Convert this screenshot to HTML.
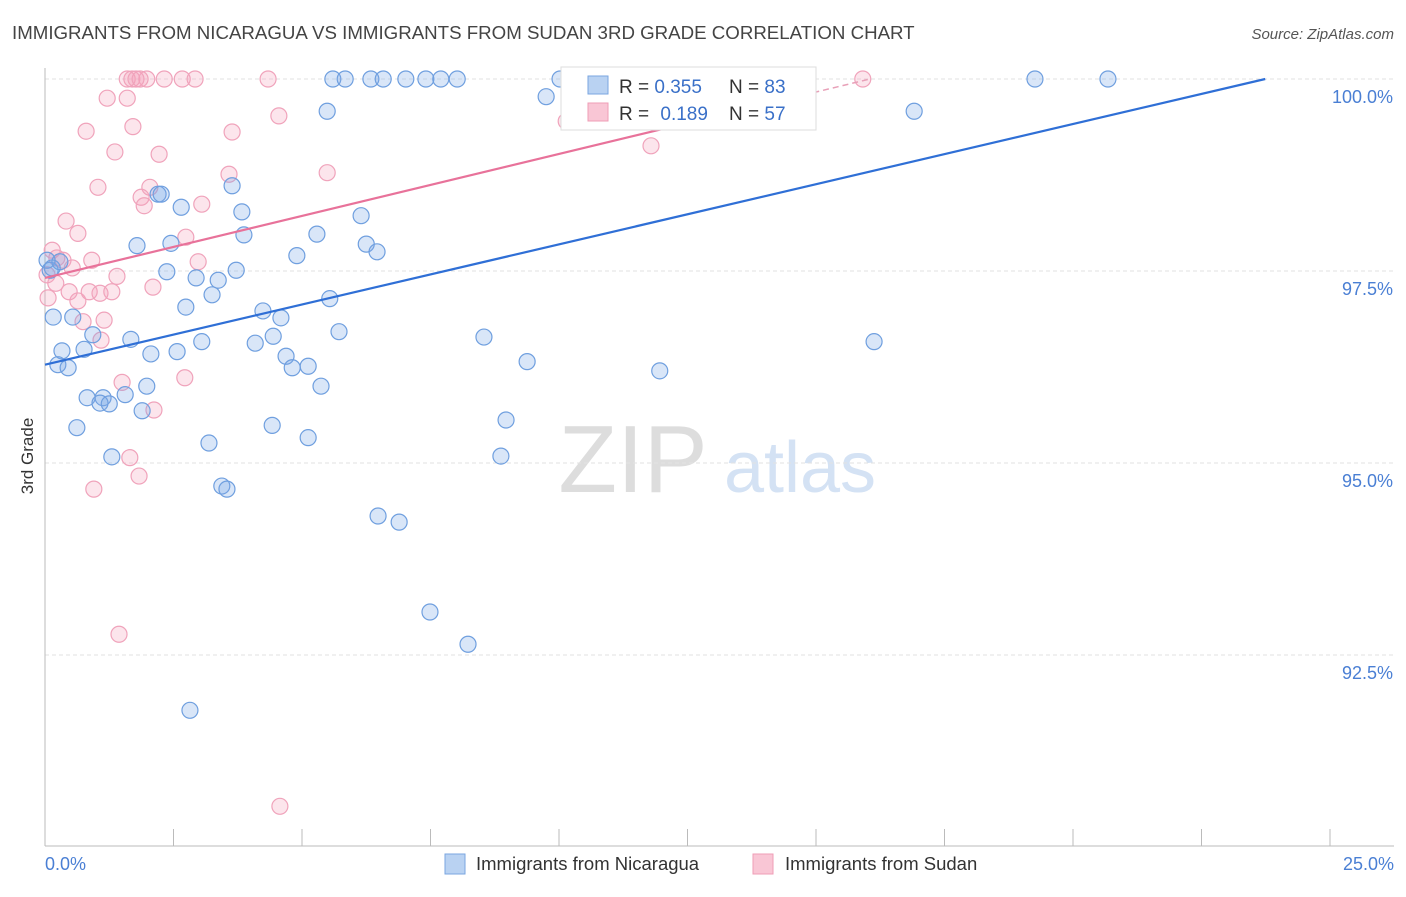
<!DOCTYPE html>
<html><head><meta charset="utf-8"><style>
body{margin:0;background:#fff;font-family:"Liberation Sans",sans-serif;}
svg text{font-family:"Liberation Sans",sans-serif;}
</style></head><body>
<svg id="chart" width="1406" height="892" xmlns="http://www.w3.org/2000/svg">
<text x="12" y="39" font-size="18.7" fill="#444">IMMIGRANTS FROM NICARAGUA VS IMMIGRANTS FROM SUDAN 3RD GRADE CORRELATION CHART</text>
<text x="1394" y="39" font-size="15" fill="#555" text-anchor="end" font-style="italic">Source: ZipAtlas.com</text>
<text transform="translate(33,456) rotate(-90)" font-size="17" fill="#333" text-anchor="middle">3rd Grade</text>
<g>
<text x="633" y="492" font-size="96" fill="#ddd" text-anchor="middle" font-family="Liberation Serif,serif">ZIP</text>
<text x="800" y="492" font-size="72" fill="#d4e2f4" text-anchor="middle">atlas</text>
</g>
<g id="grid"></g><g id="axes"></g><g id="pts"></g><g id="lines"></g>
<g>
<rect x="561" y="67" width="255" height="63" fill="#fff" stroke="#ddd"/>
<rect x="588" y="76" width="20" height="18" fill="#b9d2f2" stroke="#7aa6e0"/>
<text x="619" y="93" font-size="19" fill="#333">R = <tspan fill="#3a70c8">0.355</tspan></text>
<text x="729" y="93" font-size="19" fill="#333">N = <tspan fill="#3a70c8">83</tspan></text>
<rect x="588" y="103" width="20" height="18" fill="#f9c6d5" stroke="#ef9db6"/>
<text x="619" y="120" font-size="19" fill="#333">R = <tspan fill="#3a70c8" dx="6">0.189</tspan></text>
<text x="729" y="120" font-size="19" fill="#333">N = <tspan fill="#3a70c8">57</tspan></text>
</g>
<g>
<rect x="445" y="854" width="20" height="20" fill="#b9d2f2" stroke="#7aa6e0"/>
<text x="476" y="870" font-size="18.5" fill="#333">Immigrants from Nicaragua</text>
<rect x="753" y="854" width="20" height="20" fill="#f9c6d5" stroke="#ef9db6"/>
<text x="785" y="870" font-size="18.5" fill="#333">Immigrants from Sudan</text>
</g>
</svg>
<script>
const blueX=[5.60,5.84,6.34,6.58,7.02,7.41,7.70,8.02,10.02,19.26,20.68,9.75,5.49,16.91,3.64,2.20,2.26,2.65,3.83,6.15,3.87,5.29,1.79,2.45,6.25,6.46,4.90,3.72,2.37,2.94,3.37,5.54,2.74,3.25,4.24,4.59,0.54,0.16,0.93,1.67,3.05,4.09,4.44,5.72,8.54,16.13,0.76,0.33,2.06,2.57,4.69,0.25,0.45,4.81,5.12,9.38,11.96,5.37,1.98,0.82,1.13,1.56,1.07,1.25,1.89,8.97,0.62,4.42,5.12,3.19,1.30,8.87,3.44,3.54,6.48,6.89,7.49,8.23,2.82,0.10,0.04,0.29,0.14];
const blueY=[100,100,100,100,100,100,100,100,100,100,100,99.77,99.58,99.58,98.61,98.50,98.50,98.33,98.27,98.22,97.97,97.98,97.83,97.86,97.85,97.75,97.70,97.51,97.49,97.41,97.38,97.14,97.03,97.19,96.98,96.89,96.90,96.90,96.67,96.61,96.58,96.56,96.65,96.71,96.64,96.58,96.48,96.46,96.42,96.45,96.39,96.28,96.24,96.24,96.26,96.32,96.20,96.00,96.00,95.85,95.85,95.89,95.78,95.77,95.68,95.56,95.46,95.49,95.33,95.26,95.08,95.09,94.70,94.66,94.31,94.23,93.06,92.64,91.78,97.51,97.64,97.62,97.54];
const pinkX=[1.60,1.69,1.98,2.32,2.67,2.92,4.34,1.77,1.85,15.91,1.21,1.60,4.55,0.80,1.71,3.64,1.36,2.22,3.58,5.49,1.03,2.04,1.87,1.93,3.05,0.41,0.64,2.74,0.14,0.23,0.35,0.53,0.91,0.04,0.21,1.40,2.10,2.98,0.47,0.86,1.07,1.30,0.64,0.06,0.74,1.15,1.09,1.50,2.72,2.12,1.65,1.83,0.95,1.44,4.57,10.14,11.79];
const pinkY=[100,100,100,100,100,100,100,100,100,100,99.75,99.75,99.52,99.32,99.38,99.31,99.05,99.02,98.76,98.78,98.59,98.59,98.46,98.35,98.37,98.15,97.99,97.94,97.77,97.67,97.64,97.54,97.64,97.45,97.34,97.43,97.29,97.62,97.23,97.23,97.21,97.23,97.11,97.15,96.84,96.86,96.60,96.05,96.11,95.69,95.07,94.83,94.66,92.77,90.53,99.45,99.13];
const blueTrend=[[0,96.28],[23.74,100]];
const pinkTrend=[[0,97.41],[16.05,100]];
const yTicks=[100,97.5,95,92.5];
const yTickLabels=["100.0%","97.5%","95.0%","92.5%"];
const xTickLabels=["0.0%","25.0%"];
const NS="http://www.w3.org/2000/svg";
const X=v=>45+v*51.4, Y=v=>79+(100-v)*76.8;
function mk(tag,attrs,parent){const e=document.createElementNS(NS,tag);for(const k in attrs)e.setAttribute(k,attrs[k]);document.getElementById(parent).appendChild(e);return e;}
yTicks.forEach((t,i)=>{
 const l=mk('line',{x1:45,x2:1394,y1:Y(t),y2:Y(t),stroke:'#e2e2e2','stroke-dasharray':'4,3'},'grid');
 
 
 const tx=mk('text',{x:1393,y:Y(t)+24,'font-size':18,fill:'#4a7fd4','text-anchor':'end'},'grid');
 tx.textContent=yTickLabels[i];
 
 
});
let ax=mk('line',{x1:45,x2:45,y1:68,y2:846,stroke:'#bbb'},'axes');


ax=mk('line',{x1:45,x2:1394,y1:846,y2:846,stroke:'#bbb'},'axes');


for(let i=0;i<=10;i++){const t=mk('line',{x1:X(i*2.5),x2:X(i*2.5),y1:829,y2:846,stroke:'#bbb'},'axes');
 
 }
[[0,'start',45],[25,'end',1394]].forEach((a,i)=>{const t=mk('text',{x:a[2],y:870,'font-size':18,fill:'#4a7fd4','text-anchor':a[1]},'axes');t.textContent=xTickLabels[i];
 
 });
pinkX.forEach((x,i)=>{const c=mk('circle',{cx:X(x),cy:Y(pinkY[i]),r:8,fill:'rgba(244,160,188,0.28)',stroke:'#f0a3bb','stroke-width':1.2},'pts');
 
 });
blueX.forEach((x,i)=>{const c=mk('circle',{cx:X(x),cy:Y(blueY[i]),r:8,fill:'rgba(120,165,230,0.28)',stroke:'#6f9fdf','stroke-width':1.2},'pts');
 
 });
let L=mk('line',{x1:X(blueTrend[0][0]),y1:Y(blueTrend[0][1]),x2:X(blueTrend[1][0]),y2:Y(blueTrend[1][1]),stroke:'#2f6fd6','stroke-width':2.2},'lines');


const pm=12.3, py=pinkTrend[0][1]+(pinkTrend[1][1]-pinkTrend[0][1])*pm/pinkTrend[1][0];
L=mk('line',{x1:X(pinkTrend[0][0]),y1:Y(pinkTrend[0][1]),x2:X(pm),y2:Y(py),stroke:'#e8729a','stroke-width':2.2},'lines');


L=mk('line',{x1:X(pm),y1:Y(py),x2:X(pinkTrend[1][0]),y2:Y(pinkTrend[1][1]),stroke:'#e8a0b8','stroke-width':1.5,'stroke-dasharray':'6,4'},'lines');


</script>
</body></html>
